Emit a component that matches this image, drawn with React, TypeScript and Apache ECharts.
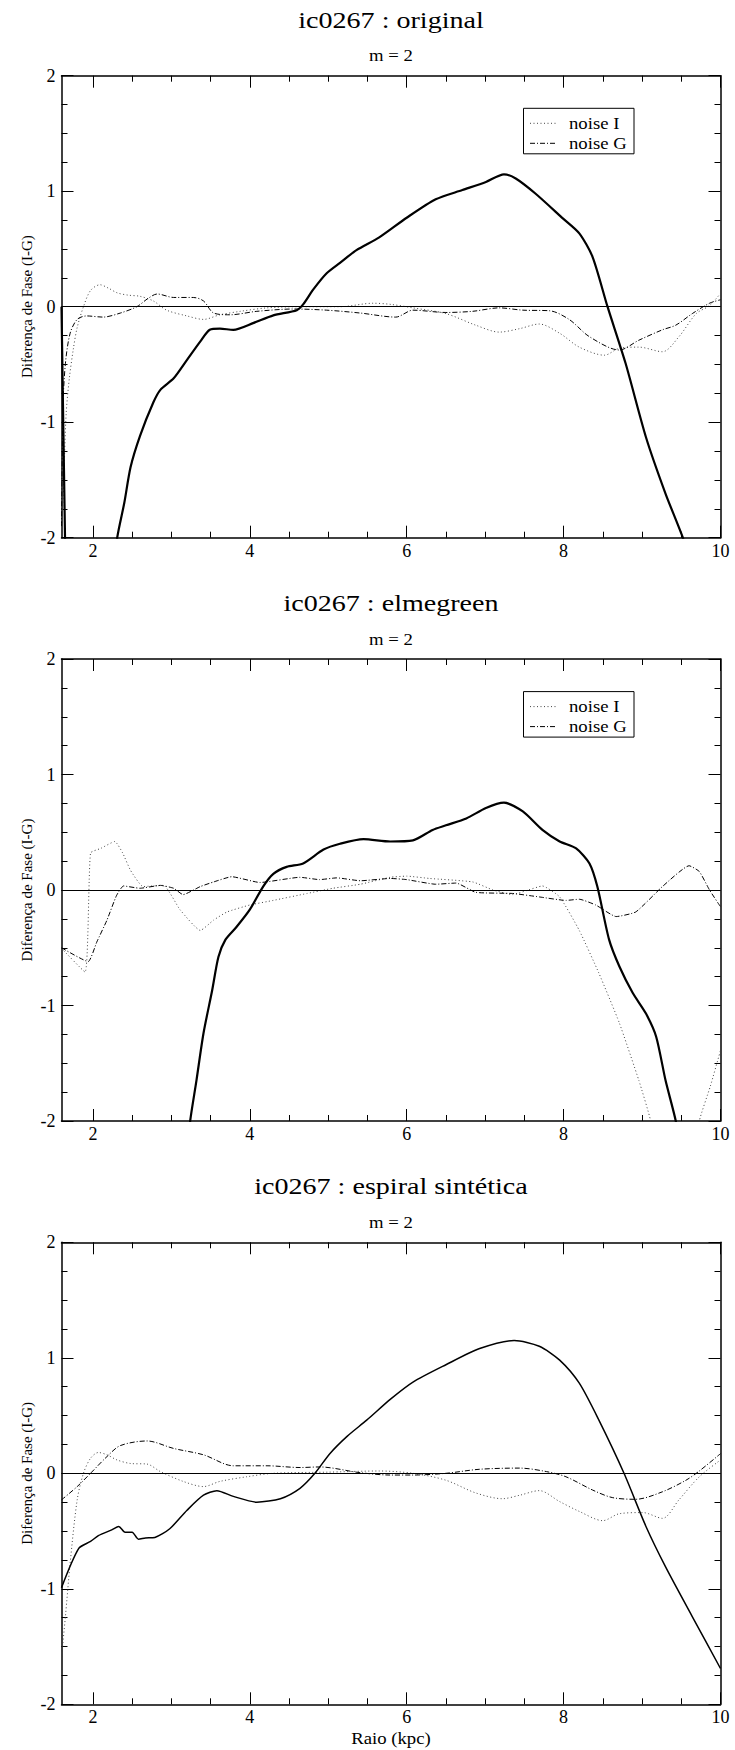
import React, { useEffect, useRef } from "react";
import * as echarts from "echarts";

// ---------- texts ----------
const panelTitles = ["ic0267 : original", "ic0267 : elmegreen", "ic0267 : espiral sintética"];
const subTitle = "m = 2";
const yAxisName = "Diferença de Fase (I-G)";
const xAxisName = "Raio (kpc)";
const legendNames = ["noise I", "noise G"];

// ---------- axes ----------
const X_MIN = 1.6;
const X_MAX = 10;
const Y_MIN = -2;
const Y_MAX = 2;
const Y_INTERVAL = 1;
const xMajorTicks = [2, 4, 6, 8, 10];
const xMinorTicks = [2.5, 3, 3.5, 4.5, 5, 5.5, 6.5, 7, 7.5, 8.5, 9, 9.5];

// ---------- panel 1 : original ----------
const origSolid = [
  [1.6, 0.0], [1.645, -2.0], [1.66, -2.4], [2.25, -2.4], [2.31, -2.0], [2.4, -1.7], [2.48, -1.39],
  [2.6, -1.12], [2.77, -0.83], [2.86, -0.72], [3.03, -0.62], [3.2, -0.46], [3.37, -0.3],
  [3.49, -0.2], [3.62, -0.19], [3.79, -0.2], [4.05, -0.14], [4.3, -0.075], [4.6, -0.03],
  [4.68, 0.02], [4.81, 0.15], [4.98, 0.29], [5.15, 0.38], [5.36, 0.49], [5.65, 0.6],
  [6.0, 0.77], [6.37, 0.93], [6.71, 1.01], [7.01, 1.08], [7.24, 1.146], [7.39, 1.11],
  [7.64, 0.98], [7.99, 0.765], [8.2, 0.635], [8.37, 0.43], [8.56, 0.0], [8.79, -0.49],
  [9.05, -1.13], [9.3, -1.62], [9.52, -2.0], [9.6, -2.2],
];
const origNoiseI = [
  [1.6, -1.97], [1.63, -1.47], [1.66, -0.92], [1.7, -0.62], [1.75, -0.37], [1.8, -0.18],
  [1.88, 0.0], [1.97, 0.14], [2.09, 0.19], [2.2, 0.16], [2.31, 0.12], [2.45, 0.1], [2.6, 0.09],
  [2.77, 0.05], [2.94, -0.03], [3.2, -0.08], [3.41, -0.11], [3.62, -0.07], [3.88, -0.04],
  [4.22, -0.01], [4.64, 0.0], [5.15, 0.0], [5.57, 0.03], [5.8, 0.02], [6.08, -0.01],
  [6.5, -0.06], [6.88, -0.16], [7.18, -0.22], [7.44, -0.19], [7.69, -0.15], [7.95, -0.23],
  [8.2, -0.35], [8.52, -0.42], [8.71, -0.36], [8.96, -0.35], [9.26, -0.39], [9.47, -0.26],
  [9.69, -0.06], [9.86, 0.01], [10, 0.115],
];
const origNoiseG = [
  [1.6, -1.9], [1.62, -0.85], [1.65, -0.49], [1.71, -0.23], [1.8, -0.11], [1.92, -0.08],
  [2.13, -0.09], [2.35, -0.055], [2.56, 0.0], [2.7, 0.07], [2.82, 0.11], [3.03, 0.08],
  [3.28, 0.08], [3.41, 0.05], [3.54, -0.055], [3.75, -0.07], [4.09, -0.04], [4.56, -0.02],
  [4.98, -0.03], [5.41, -0.055], [5.86, -0.09], [6.08, -0.03], [6.5, -0.05], [6.84, -0.04],
  [7.18, -0.01], [7.48, -0.03], [7.82, -0.035], [8.07, -0.11], [8.33, -0.26], [8.71, -0.375],
  [8.96, -0.29], [9.26, -0.2], [9.43, -0.16], [9.64, -0.06], [9.86, 0.03], [10, 0.06],
];

// ---------- panel 2 : elmegreen ----------
const elmSolid = [
  [3.2, -2.3], [3.24, -2.0], [3.32, -1.65], [3.41, -1.24], [3.52, -0.87], [3.6, -0.58],
  [3.69, -0.43], [3.83, -0.32], [4.0, -0.17], [4.17, 0.03], [4.3, 0.14], [4.47, 0.2],
  [4.68, 0.23], [4.94, 0.35], [5.15, 0.4], [5.45, 0.44], [5.79, 0.42], [6.08, 0.43],
  [6.33, 0.52], [6.5, 0.56], [6.76, 0.62], [7.01, 0.71], [7.24, 0.756], [7.48, 0.68],
  [7.73, 0.52], [7.95, 0.42], [8.16, 0.36], [8.33, 0.23], [8.43, 0.03], [8.58, -0.43],
  [8.71, -0.66], [8.88, -0.89], [9.05, -1.07], [9.18, -1.27], [9.3, -1.65], [9.43, -2.0],
  [9.47, -2.2],
];
const elmNoiseI = [
  [1.6, -0.505], [1.9, -0.71], [1.97, 0.32], [2.1, 0.36], [2.28, 0.42], [2.38, 0.32],
  [2.48, 0.17], [2.64, 0.03], [2.9, 0.04], [3.11, -0.17], [3.37, -0.35], [3.54, -0.26],
  [3.71, -0.19], [4.0, -0.13], [4.3, -0.09], [4.73, -0.03], [5.06, 0.015], [5.41, 0.05],
  [5.79, 0.11], [6.0, 0.12], [6.29, 0.1], [6.84, 0.07], [7.1, 0.0], [7.35, -0.04],
  [7.55, 0.0], [7.73, 0.035], [7.95, -0.06], [8.2, -0.35], [8.45, -0.72], [8.71, -1.15],
  [8.96, -1.65], [9.11, -2.0], [9.15, -2.3], [9.7, -2.3], [9.73, -2.0], [9.87, -1.7],
  [10, -1.39],
];
const elmNoiseG = [
  [1.6, -0.5], [1.94, -0.62], [2.05, -0.45], [2.18, -0.26], [2.3, -0.05], [2.39, 0.035],
  [2.6, 0.015], [2.86, 0.04], [3.03, 0.015], [3.15, -0.04], [3.37, 0.03], [3.54, 0.07],
  [3.77, 0.115], [4.13, 0.065], [4.64, 0.11], [4.89, 0.09], [5.11, 0.105], [5.41, 0.08],
  [5.79, 0.1], [6.0, 0.09], [6.37, 0.05], [6.63, 0.06], [6.88, -0.02], [7.35, -0.03],
  [7.69, -0.06], [8.03, -0.09], [8.2, -0.08], [8.41, -0.13], [8.67, -0.23], [8.92, -0.19],
  [9.26, 0.03], [9.6, 0.21], [9.73, 0.16], [9.86, 0.0], [10, -0.145],
];

// ---------- panel 3 : espiral sintética ----------
const synSolid = [
  [1.6, -0.99], [1.82, -0.65], [1.97, -0.59], [2.07, -0.54], [2.24, -0.49], [2.33, -0.46],
  [2.41, -0.51], [2.5, -0.51], [2.58, -0.57], [2.67, -0.56], [2.79, -0.555], [2.98, -0.48],
  [3.2, -0.32], [3.41, -0.19], [3.58, -0.15], [3.79, -0.2], [4.09, -0.25], [4.39, -0.22],
  [4.64, -0.13], [4.83, 0.0], [5.02, 0.17], [5.24, 0.32], [5.49, 0.46], [5.79, 0.64],
  [6.08, 0.79], [6.5, 0.94], [6.93, 1.08], [7.37, 1.15], [7.69, 1.1], [7.95, 0.98],
  [8.2, 0.78], [8.45, 0.46], [8.77, 0.0], [9.05, -0.46], [9.3, -0.81], [9.64, -1.24],
  [10, -1.69],
];
const synNoiseI = [
  [1.6, -1.59], [1.65, -1.24], [1.71, -0.78], [1.8, -0.23], [1.88, 0.0], [1.97, 0.13],
  [2.07, 0.18], [2.18, 0.16], [2.31, 0.115], [2.48, 0.085], [2.69, 0.08], [2.86, 0.015],
  [3.15, -0.07], [3.41, -0.115], [3.62, -0.07], [3.96, -0.03], [4.3, 0.0], [5.0, 0.01],
  [5.65, 0.02], [6.08, 0.0], [6.5, -0.06], [6.88, -0.17], [7.22, -0.22], [7.44, -0.19],
  [7.69, -0.15], [7.95, -0.245], [8.2, -0.33], [8.5, -0.41], [8.71, -0.35], [9.01, -0.34],
  [9.26, -0.39], [9.47, -0.23], [9.73, -0.03], [10, 0.115],
];
const synNoiseG = [
  [1.6, -0.23], [1.8, -0.115], [1.97, 0.0], [2.18, 0.145], [2.35, 0.24], [2.69, 0.28],
  [3.03, 0.215], [3.41, 0.16], [3.79, 0.065], [4.22, 0.065], [4.64, 0.05], [4.89, 0.055],
  [5.41, 0.005], [5.79, -0.015], [6.08, -0.015], [6.5, 0.0], [6.93, 0.035], [7.44, 0.045],
  [7.78, 0.015], [8.03, -0.03], [8.37, -0.145], [8.62, -0.21], [8.92, -0.225], [9.26, -0.16],
  [9.56, -0.06], [9.73, 0.02], [10, 0.17],
];

const panels = [
  { solid: origSolid, noiseI: origNoiseI, noiseG: origNoiseG, legend: true, solidWidth: 2.2 },
  { solid: elmSolid, noiseI: elmNoiseI, noiseG: elmNoiseG, legend: true, solidWidth: 2.2 },
  { solid: synSolid, noiseI: synNoiseI, noiseG: synNoiseG, legend: false, solidWidth: 1.5 },
];

// ---------- layout ----------
const FONT = "'Liberation Serif', 'Times New Roman', Times, serif";
const GRID_LEFT = 61.5;
const GRID_W = 659;
const GRID_H = 462;
const GRID_TOPS = [75.7, 659, 1242.3];
const CENTER_X = GRID_LEFT + GRID_W / 2;
const STRETCH = 1.17;
const DOT_DASH = [1, 2.5];
const DASH_DOT = [5, 2, 1, 2];

function buildOption() {
  const grid: any[] = [];
  const xAxis: any[] = [];
  const yAxis: any[] = [];
  const series: any[] = [];
  const graphic: any[] = [];
  const axisLineStyle = { color: "#000", width: 1.5 };
  const tickStyle = { color: "#000", width: 1 };

  panels.forEach((p, g) => {
    const top = GRID_TOPS[g];
    grid.push({ left: GRID_LEFT, top, width: GRID_W, height: GRID_H });
    const xBase = {
      type: "value", gridIndex: g, min: X_MIN, max: X_MAX,
      splitLine: { show: false },
    };
    xAxis.push({
      ...xBase, position: "bottom",
      axisLine: { show: true, onZero: false, lineStyle: axisLineStyle },
      axisTick: { show: true, inside: true, length: 12, customValues: xMajorTicks, lineStyle: tickStyle },
      axisLabel: { show: true, customValues: xMajorTicks, fontSize: 18, fontFamily: FONT, color: "#000", margin: 4 },
    });
    xAxis.push({
      ...xBase, position: "bottom",
      axisLine: { show: false, onZero: false },
      axisTick: { show: true, inside: true, length: 6, customValues: xMinorTicks, lineStyle: tickStyle },
      axisLabel: { show: false },
    });
    xAxis.push({
      ...xBase, position: "top",
      axisLine: { show: true, onZero: false, lineStyle: axisLineStyle },
      axisTick: { show: true, inside: true, length: 12, customValues: xMajorTicks, lineStyle: tickStyle },
      axisLabel: { show: false },
    });
    xAxis.push({
      ...xBase, position: "top",
      axisLine: { show: false, onZero: false },
      axisTick: { show: true, inside: true, length: 6, customValues: xMinorTicks, lineStyle: tickStyle },
      axisLabel: { show: false },
    });
    const yBase = {
      type: "value", gridIndex: g, min: Y_MIN, max: Y_MAX, interval: Y_INTERVAL,
      splitLine: { show: false },
      axisLine: { show: true, onZero: false, lineStyle: axisLineStyle },
      axisTick: { show: true, inside: true, length: 12, lineStyle: tickStyle },
      minorTick: { show: true, splitNumber: 4, length: 6, lineStyle: tickStyle },
    };
    yAxis.push({
      ...yBase, position: "left",
      axisLabel: { show: true, fontSize: 18, fontFamily: FONT, color: "#000", margin: 6 },
    });
    yAxis.push({ ...yBase, position: "right", axisLabel: { show: false } });

    const common = {
      type: "line", xAxisIndex: 4 * g, yAxisIndex: 2 * g, showSymbol: false, symbol: "none",
      clip: true, silent: true,
    };
    series.push({
      ...common, name: legendNames[0], data: p.noiseI, smooth: g === 1 ? 0.15 : 0.3,
      lineStyle: { color: "#444", width: 1, type: DOT_DASH },
    });
    series.push({
      ...common, name: legendNames[1], data: p.noiseG, smooth: g === 1 ? 0.15 : 0.3,
      lineStyle: { color: "#000", width: 1, type: DASH_DOT },
    });
    series.push({
      ...common, name: "I-G", data: p.solid, smooth: 0.25,
      lineStyle: { color: "#000", width: p.solidWidth, type: "solid" },
      markLine: {
        silent: true, symbol: ["none", "none"], label: { show: false },
        lineStyle: { color: "#000", width: 1, type: "solid" },
        data: [{ yAxis: 0 }],
      },
    });

    // titles
    graphic.push({
      type: "text", x: CENTER_X, y: top - 56, scaleX: STRETCH,
      style: { text: panelTitles[g], fontSize: 24, fontFamily: FONT, fill: "#000", align: "center", verticalAlign: "middle" },
    });
    graphic.push({
      type: "text", x: CENTER_X, y: top - 20, scaleX: STRETCH,
      style: { text: subTitle, fontSize: 16, fontFamily: FONT, fill: "#000", align: "center", verticalAlign: "middle" },
    });
    graphic.push({
      type: "text", x: 27, y: top + GRID_H / 2, rotation: Math.PI / 2,
      style: { text: yAxisName, fontSize: 15, fontFamily: FONT, fill: "#000", align: "center", verticalAlign: "middle" },
    });
    if (g === 2) {
      graphic.push({
        type: "text", x: CENTER_X, y: top + GRID_H + 34, scaleX: STRETCH,
        style: { text: xAxisName, fontSize: 16, fontFamily: FONT, fill: "#000", align: "center", verticalAlign: "middle" },
      });
    }
    if (p.legend) {
      const bx = 523.5;
      const by = top + 32.6;
      graphic.push({
        type: "rect", z: 100, shape: { x: bx, y: by, width: 110.5, height: 45.5 },
        style: { fill: "#fff", stroke: "#000", lineWidth: 1 },
      });
      graphic.push({
        type: "line", z: 101, shape: { x1: bx + 6.5, y1: by + 15, x2: bx + 33.5, y2: by + 15 },
        style: { stroke: "#444", lineWidth: 1, lineDash: DOT_DASH },
      });
      graphic.push({
        type: "line", z: 101, shape: { x1: bx + 6.5, y1: by + 35, x2: bx + 33.5, y2: by + 35 },
        style: { stroke: "#000", lineWidth: 1, lineDash: DASH_DOT },
      });
      graphic.push({
        type: "text", z: 101, x: bx + 45.5, y: by + 15, scaleX: STRETCH,
        style: { text: legendNames[0], fontSize: 16, fontFamily: FONT, fill: "#000", align: "left", verticalAlign: "middle" },
      });
      graphic.push({
        type: "text", z: 101, x: bx + 45.5, y: by + 35, scaleX: STRETCH,
        style: { text: legendNames[1], fontSize: 16, fontFamily: FONT, fill: "#000", align: "left", verticalAlign: "middle" },
      });
    }
  });

  return {
    animation: false,
    backgroundColor: "#fff",
    textStyle: { fontFamily: FONT },
    grid, xAxis, yAxis, series,
    graphic: { elements: graphic },
  };
}

export default function App() {
  const ref = useRef<HTMLDivElement>(null);
  useEffect(() => {
    document.body.style.margin = "0";
    if (!ref.current) return;
    const chart = echarts.init(ref.current, undefined, { renderer: "svg" });
    chart.setOption(buildOption() as any);
    return () => chart.dispose();
  }, []);
  return <div ref={ref} style={{ width: 735, height: 1750, background: "#fff" }} />;
}
